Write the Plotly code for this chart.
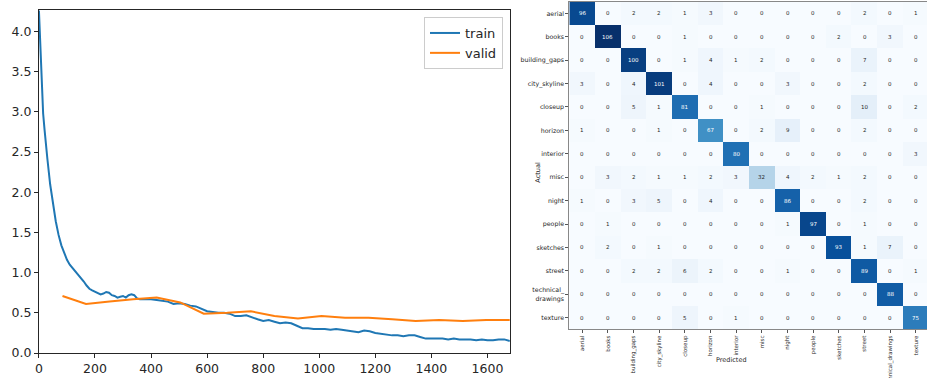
import plotly.graph_objects as go
import plotly.express as px

# ---------------- data ----------------
train_iters = [0, 5, 10, 15, 20, 25, 30, 40, 50, 60, 70, 80, 90, 100, 110, 120, 130, 140, 150, 160,
               170, 180, 190, 200, 210, 220, 230, 240, 250, 260, 270, 280, 290, 300, 310, 320, 330,
               340, 350, 360, 380, 400, 420, 440, 460, 480, 500, 520, 540, 560, 580, 600, 620, 640,
               660, 680, 700, 720, 740, 760, 780, 800, 820, 840, 860, 880, 900, 920, 940, 960, 980,
               1000, 1020, 1040, 1060, 1080, 1100, 1120, 1140, 1160, 1180, 1200, 1220, 1240, 1260,
               1280, 1300, 1320, 1340, 1360, 1380, 1400, 1420, 1440, 1460, 1480, 1500, 1520, 1540,
               1560, 1580, 1600, 1620, 1640, 1660, 1680]
train_loss = [4.26, 3.75, 3.30, 2.98, 2.78, 2.58, 2.42, 2.10, 1.84, 1.64, 1.47, 1.34, 1.25, 1.16,
              1.10, 1.06, 1.01, 0.97, 0.94, 0.89, 0.84, 0.80, 0.78, 0.76, 0.74, 0.73, 0.74, 0.76,
              0.75, 0.72, 0.71, 0.69, 0.70, 0.71, 0.69, 0.72, 0.73, 0.72, 0.68, 0.67, 0.67, 0.67,
              0.66, 0.65, 0.64, 0.61, 0.62, 0.61, 0.59, 0.58, 0.55, 0.52, 0.51, 0.50, 0.50, 0.49,
              0.46, 0.46, 0.47, 0.44, 0.42, 0.40, 0.41, 0.39, 0.37, 0.38, 0.37, 0.34, 0.31, 0.31,
              0.30, 0.30, 0.30, 0.29, 0.30, 0.29, 0.28, 0.27, 0.26, 0.28, 0.27, 0.25, 0.24, 0.23,
              0.22, 0.22, 0.21, 0.22, 0.22, 0.20, 0.18, 0.18, 0.18, 0.18, 0.17, 0.18, 0.17, 0.17,
              0.17, 0.16, 0.17, 0.16, 0.16, 0.17, 0.17, 0.15]

valid_iters = [84, 168, 252, 336, 420, 504, 588, 672, 756, 840, 924, 1008, 1092, 1176, 1260,
               1344, 1428, 1512, 1596, 1680]
valid_loss = [0.71, 0.61, 0.64, 0.67, 0.69, 0.63, 0.49, 0.50, 0.52, 0.46, 0.43, 0.46, 0.44, 0.44,
              0.42, 0.40, 0.41, 0.40, 0.41, 0.41]

x_ticks = [0, 200, 400, 600, 800, 1000, 1200, 1400, 1600]
y_ticks = [0.0, 0.5, 1.0, 1.5, 2.0, 2.5, 3.0, 3.5, 4.0]

classes = ["aerial", "books", "building_gaps", "city_skyline", "closeup", "horizon", "interior",
           "misc", "night", "people", "sketches", "street", "technical_drawings", "texture"]
row_labels = ["aerial", "books", "building_gaps", "city_skyline", "closeup", "horizon", "interior",
              "misc", "night", "people", "sketches", "street", "technical_<br>drawings", "texture"]
conf = [
    [96, 0, 2, 2, 1, 3, 0, 0, 0, 0, 0, 2, 0, 1],
    [0, 106, 0, 0, 1, 0, 0, 0, 0, 0, 2, 0, 3, 0],
    [0, 0, 100, 0, 1, 4, 1, 2, 0, 0, 0, 7, 0, 0],
    [3, 0, 4, 101, 0, 4, 0, 0, 3, 0, 0, 2, 0, 0],
    [0, 0, 5, 1, 81, 0, 0, 1, 0, 0, 0, 10, 0, 2],
    [1, 0, 0, 1, 0, 67, 0, 2, 9, 0, 0, 2, 0, 0],
    [0, 0, 0, 0, 0, 0, 80, 0, 0, 0, 0, 0, 0, 3],
    [0, 3, 2, 1, 1, 2, 3, 32, 4, 2, 1, 2, 0, 0],
    [1, 0, 3, 5, 0, 4, 0, 0, 86, 0, 0, 2, 0, 0],
    [0, 1, 0, 0, 0, 0, 0, 0, 1, 97, 0, 1, 0, 0],
    [0, 2, 0, 1, 0, 0, 0, 0, 0, 0, 93, 1, 7, 0],
    [0, 0, 2, 2, 6, 2, 0, 0, 1, 0, 0, 89, 0, 1],
    [0, 0, 0, 0, 0, 0, 0, 0, 0, 0, 0, 0, 88, 0],
    [0, 0, 0, 0, 5, 0, 1, 0, 0, 0, 0, 0, 0, 75],
]

# ---------------- figure ----------------
FONT = "DejaVu Sans"
fig = go.Figure()

fig.add_trace(go.Scatter(x=train_iters, y=train_loss, mode="lines", name="train",
                         line=dict(color="#1f77b4", width=2), xaxis="x", yaxis="y"))
fig.add_trace(go.Scatter(x=valid_iters, y=valid_loss, mode="lines", name="valid",
                         line=dict(color="#ff7f0e", width=2), xaxis="x", yaxis="y"))

n = len(classes)
idx = list(range(n))
zmax = max(max(r) for r in conf)
fig.add_trace(go.Heatmap(z=conf, x=idx, y=idx, colorscale=px.colors.sequential.Blues,
                         zmin=0, zmax=zmax, showscale=False, xaxis="x2", yaxis="y2",
                         xgap=0, ygap=0, hoverinfo="skip"))

annotations = []
for i in range(n):
    for j in range(n):
        v = conf[i][j]
        annotations.append(dict(x=j, y=i, xref="x2", yref="y2", text=str(v), showarrow=False,
                                font=dict(size=5.5, family=FONT,
                                          color="white" if v > zmax / 2 else "#262626")))
annotations.append(dict(x=0.580, y=0.545, xref="paper", yref="paper", text="Actual",
                        showarrow=False, textangle=-90, font=dict(size=6.5, family=FONT, color="#262626")))
annotations.append(dict(x=0.808, y=0.032, xref="paper", yref="paper", text="Predicted",
                        showarrow=False, font=dict(size=6.5, family=FONT, color="#262626")))

fig.update_layout(
    width=927, height=378,
    margin=dict(l=0, r=0, t=0, b=0),
    paper_bgcolor="white", plot_bgcolor="white",
    font=dict(family=FONT, color="#262626"),
    showlegend=True,
    legend=dict(x=0.5426, y=0.955, xanchor="right", yanchor="top",
                bgcolor="rgba(255,255,255,0.8)", bordercolor="#cccccc", borderwidth=1,
                font=dict(size=13, family=FONT, color="#262626"), tracegroupgap=2),
    xaxis=dict(domain=[0.042, 0.550], range=[0, 1680], tickvals=x_ticks, automargin=False,
               showgrid=False, zeroline=False, showline=True, mirror=True,
               linecolor="#262626", linewidth=1, ticks="outside", ticklen=4,
               tickcolor="#262626", tickfont=dict(size=12.5, family=FONT), anchor="y"),
    yaxis=dict(domain=[0.066, 0.974], range=[0, 4.27], tickvals=y_ticks, automargin=False,
               tickformat=".1f", showgrid=False, zeroline=False, showline=True, mirror=True,
               linecolor="#262626", linewidth=1, ticks="outside", ticklen=4,
               tickcolor="#262626", tickfont=dict(size=12.5, family=FONT), anchor="x"),
    xaxis2=dict(domain=[0.6142, 1.0], range=[-0.5, n - 0.57], tickvals=idx, ticktext=classes,
                automargin=False,
                tickangle=-90, showgrid=False, zeroline=False, showline=True, mirror=True,
                linecolor="#888888", linewidth=1, ticks="outside", ticklen=3, tickcolor="#555555",
                tickfont=dict(size=5.5, family=FONT), anchor="y2"),
    yaxis2=dict(domain=[0.1286, 0.9958], range=[n - 0.5, -0.5], tickvals=idx, ticktext=row_labels,
                automargin=False,
                showgrid=False, zeroline=False, showline=True, mirror=True,
                linecolor="#888888", linewidth=1, ticks="outside", ticklen=3, tickcolor="#555555",
                tickfont=dict(size=6.3, family=FONT), anchor="x2"),
    annotations=annotations,
)

fig.write_html("out.html", config={"displayModeBar": False},
               post_script="document.body.style.margin='0';document.body.style.overflow='hidden';")
